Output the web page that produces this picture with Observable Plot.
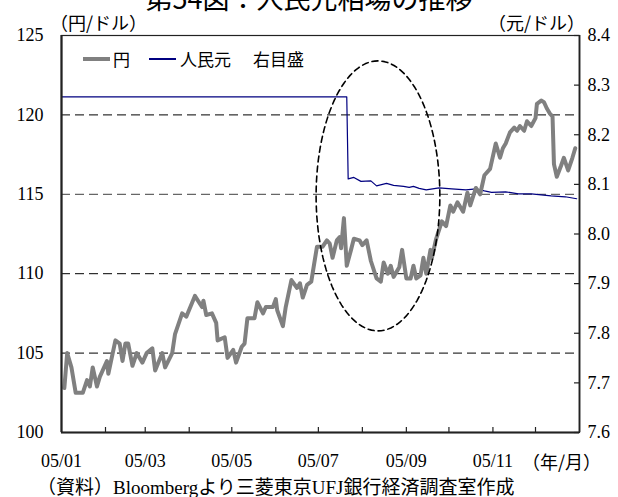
<!DOCTYPE html>
<html><head><meta charset="utf-8">
<script src="https://cdn.jsdelivr.net/npm/d3@7"></script>
<script src="https://cdn.jsdelivr.net/npm/@observablehq/plot@0.6"></script>
<style>
body{margin:0;background:#fff;}
#wrap{position:relative;width:618px;height:497px;overflow:hidden;font-family:"Noto Sans CJK JP",sans-serif;color:#000;}
.t{position:absolute;white-space:nowrap;line-height:1;}
#chart{position:absolute;left:0;top:0;}
</style></head><body>
<div id="wrap">
  <div id="chart"></div>
  <div class="t" id="title" style="left:0;width:618px;text-align:center;top:-16px;font-size:27px;">第54図：人民元相場の推移</div>
  <div class="t" style="left:50px;top:13px;font-size:18px;">（円/ドル）</div>
  <div class="t" style="right:33px;top:13px;font-size:18px;">（元/ドル）</div>
  <div class="t" style="left:83px;top:57px;width:27px;height:4px;background:#808080;"></div>
  <div class="t" style="left:113px;top:50px;font-size:17px;">円</div>
  <div class="t" style="left:149px;top:58px;width:27px;height:1.5px;background:#000080;"></div>
  <div class="t" style="left:180px;top:50px;font-size:17px;">人民元</div>
  <div class="t" style="left:253px;top:50px;font-size:17px;">右目盛</div>
  <div class="t" style="left:522px;top:452px;font-size:18px;">（年/月）</div>
  <div class="t" style="left:37px;top:478px;font-size:19px;font-family:'Liberation Serif','Noto Sans CJK JP',serif;">（資料）Bloombergより三菱東京UFJ銀行経済調査室作成</div>
</div>
<script>
// USD/JPY (left axis)
const yenDates = ["2005-01-03","2005-01-05","2005-01-08","2005-01-11","2005-01-16","2005-01-19","2005-01-21","2005-01-23","2005-01-26","2005-01-28",
"2005-02-02","2005-02-03","2005-02-08","2005-02-11","2005-02-13","2005-02-15","2005-02-17","2005-02-20","2005-02-23","2005-02-27",
"2005-03-02","2005-03-06","2005-03-08","2005-03-13","2005-03-15","2005-03-20","2005-03-22","2005-03-27","2005-03-30",
"2005-04-05","2005-04-10","2005-04-11","2005-04-13","2005-04-17","2005-04-20","2005-04-21","2005-04-26","2005-04-28",
"2005-05-02","2005-05-04","2005-05-08","2005-05-10","2005-05-12","2005-05-17","2005-05-19","2005-05-23","2005-05-25","2005-05-30",
"2005-06-01","2005-06-02","2005-06-06","2005-06-08","2005-06-12","2005-06-16","2005-06-18","2005-06-20","2005-06-23","2005-06-26","2005-06-28","2005-06-30",
"2005-07-04","2005-07-07","2005-07-09","2005-07-11","2005-07-14","2005-07-16","2005-07-17","2005-07-19","2005-07-21","2005-07-24","2005-07-26","2005-07-30",
"2005-08-01","2005-08-04","2005-08-07","2005-08-11","2005-08-14","2005-08-16","2005-08-19","2005-08-21","2005-08-23","2005-08-27","2005-08-29",
"2005-09-01","2005-09-04","2005-09-06","2005-09-08","2005-09-11","2005-09-13","2005-09-15","2005-09-18","2005-09-19","2005-09-22","2005-09-26","2005-09-29",
"2005-10-02","2005-10-04","2005-10-07","2005-10-11","2005-10-14","2005-10-16","2005-10-20","2005-10-23","2005-10-26","2005-10-30",
"2005-11-03","2005-11-06","2005-11-08","2005-11-10","2005-11-13","2005-11-16","2005-11-18","2005-11-20","2005-11-23","2005-11-25","2005-11-28",
"2005-12-01","2005-12-02","2005-12-05","2005-12-07","2005-12-09","2005-12-11","2005-12-13","2005-12-14","2005-12-16","2005-12-19","2005-12-21","2005-12-24","2005-12-27","2005-12-29"];
const yenValues = [102.8,105.0,104.1,102.5,102.5,103.3,102.9,104.1,102.9,103.5,
104.5,103.7,105.8,105.6,104.5,105.6,105.6,104.2,105.0,104.4,
105.0,105.3,103.9,105.0,104.1,105.0,106.2,107.5,107.3,
108.6,107.9,108.3,107.4,107.5,106.9,105.8,106.0,104.7,
105.2,104.4,105.4,105.6,107.2,107.2,108.2,107.5,107.9,107.9,
108.4,107.7,106.7,107.9,109.6,109.1,109.4,108.5,109.3,109.5,110.6,111.7,
111.7,112.1,111.9,111.0,112.1,112.3,111.6,113.5,110.5,111.5,112.2,112.1,
111.8,112.1,110.8,109.7,109.5,110.7,110.0,110.5,109.8,110.4,111.5,
109.7,109.7,110.5,109.7,109.9,111.0,110.0,111.5,111.0,112.2,113.3,113.0,
114.3,113.9,114.5,113.9,115.1,114.3,115.4,115.0,116.2,116.6,
118.2,117.3,117.9,118.2,118.9,119.2,119.0,119.3,119.0,119.6,119.3,
119.8,120.7,120.9,120.8,120.4,120.1,119.9,116.9,116.1,116.8,117.3,116.5,117.3,117.9];
// USD/CNY (right axis)
const cnyDates = ["2005-01-01","2005-07-21","2005-07-22","2005-07-26","2005-07-31","2005-08-07","2005-08-11","2005-08-18","2005-08-23","2005-08-30",
"2005-09-03","2005-09-06","2005-09-10","2005-09-15","2005-09-24","2005-10-03","2005-10-13","2005-10-20","2005-10-26","2005-10-31",
"2005-11-10","2005-11-19","2005-11-28","2005-12-12","2005-12-22","2005-12-30"];
const cnyValues = [8.2765,8.2765,8.111,8.114,8.106,8.107,8.097,8.102,8.098,8.096,
8.094,8.096,8.092,8.089,8.093,8.091,8.089,8.091,8.087,8.084,
8.085,8.081,8.081,8.077,8.075,8.071];
// axes
const leftTicks = [100,105,110,115,120,125];
const rightTicks = [7.6,7.7,7.8,7.9,8.0,8.1,8.2,8.3,8.4];
const gridLines = [105,110,120];
const gridLinesGray = [115];
const xLabelMonths = ["2005-01-01","2005-03-01","2005-05-01","2005-07-01","2005-09-01","2005-11-01"];
const xTickMonths = ["2005-02-01","2005-03-01","2005-04-01","2005-05-01","2005-06-01","2005-07-01","2005-08-01","2005-09-01","2005-10-01","2005-11-01","2005-12-01"];
// highlighted period (ellipse): centre date / yen value, radii in days / yen
const ellipseCenterDate = "2005-08-12";
const ellipseCenterValue = 114.9;
const ellipseRadiusDays = 43.6;
const ellipseRadiusYen = 8.5;

const yLo = 100, yHi = 125, cLo = 7.6, cHi = 8.4;
const toLeft = c => yLo + (c - cLo) * (yHi - yLo) / (cHi - cLo);
const toRight = y => cLo + (y - yLo) * (cHi - cLo) / (yHi - yLo);

const yen = yenDates.map((d, i) => ({date: new Date(d), v: yenValues[i]}));
const cny = cnyDates.map((d, i) => ({date: new Date(d), v: toLeft(cnyValues[i])}));
const ec = +new Date(ellipseCenterDate);
const ellipse = d3.range(0, 361, 3).map(a => {
  const t = a * Math.PI / 180;
  return {date: new Date(ec + ellipseRadiusDays * 86400000 * Math.cos(t)), v: ellipseCenterValue + ellipseRadiusYen * Math.sin(t)};
});

const W = 618, H = 475, mL = 61, mR = 39, mT = 35, mB = 43;
const fw = W - mL - mR, fh = H - mT - mB;

const chart = Plot.plot({
  width: W, height: H,
  marginLeft: mL, marginRight: mR, marginTop: mT, marginBottom: mB,
  x: {type: "utc", domain: [new Date("2005-01-01"), new Date("2006-01-01")]},
  y: {domain: [yLo, yHi]},
  style: {fontFamily: '"Liberation Serif","Times New Roman",serif', fontSize: "18px", color: "#000", background: "#fff"},
  marks: [
    Plot.ruleY(gridLines, {stroke: "#000", strokeWidth: 1, strokeDasharray: "9,5"}),
    Plot.ruleY(gridLinesGray, {stroke: "#666", strokeWidth: 1.3, strokeDasharray: "9,5"}),
    Plot.line(cny, {x: "date", y: "v", stroke: "#000080", strokeWidth: 1.2}),
    Plot.line(yen, {x: "date", y: "v", stroke: "#808080", strokeWidth: 4, strokeLinejoin: "round"}),
    Plot.line(ellipse, {x: "date", y: "v", stroke: "#000", strokeWidth: 1.6, strokeDasharray: "6,4"}),
    Plot.tickY(rightTicks.map(toLeft), {y: d => d, insetLeft: fw - 5, stroke: "#222", strokeWidth: 1.2}),
    Plot.tickX(xTickMonths.map(d => new Date(d)), {x: d => d, insetTop: fh - 5, stroke: "#222", strokeWidth: 1.2}),
    Plot.frame({stroke: "#222", strokeWidth: 1.2}),
    Plot.ruleX([new Date("2005-01-01")], {stroke: "#222", strokeWidth: 2.2}),
    Plot.ruleY([yLo], {stroke: "#222", strokeWidth: 2}),
    Plot.ruleX([new Date("2006-01-01")], {stroke: "#222", strokeWidth: 1.8}),
    Plot.axisY({ticks: leftTicks, anchor: "left", tickSize: 0, tickPadding: 18, label: null}),
    Plot.axisY({ticks: rightTicks.map(toLeft), anchor: "right", tickSize: 0, tickPadding: 8, label: null,
      tickFormat: d => toRight(d).toFixed(1)}),
    Plot.axisX({ticks: xLabelMonths.map(d => new Date(d)), tickSize: 0, tickPadding: 22, label: null,
      tickFormat: d3.utcFormat("%y/%m")})
  ]
});
document.getElementById("chart").appendChild(chart);
</script>
</body></html>
